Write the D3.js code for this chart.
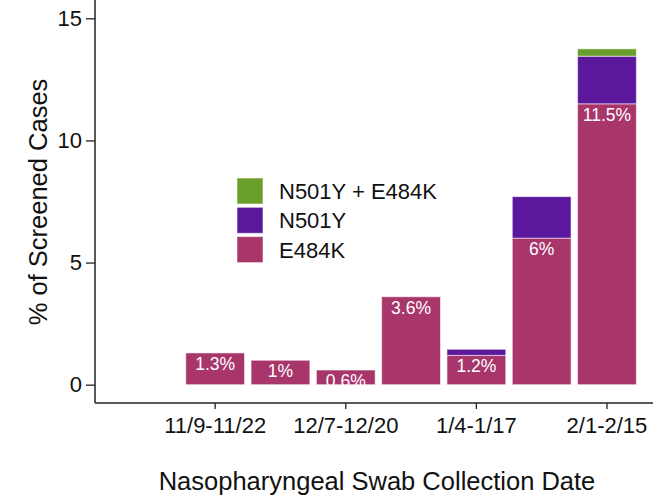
<!DOCTYPE html>
<html>
<head>
<meta charset="utf-8">
<script src="https://cdn.jsdelivr.net/npm/d3@7"></script>
<style>
  body { margin: 0; background: #fff; }
  text { font-family: Arial, "Liberation Sans", sans-serif; }
</style>
</head>
<body>
<div id="chart"></div>
<script>
// two-week collection windows
const periods = ['11/9-11/22', '11/23-12/6', '12/7-12/20', '12/21-1/3', '1/4-1/17', '1/18-1/31', '2/1-2/15'];
const tickLabels = ['11/9-11/22', '12/7-12/20', '1/4-1/17', '2/1-2/15'];
const e484k = [1.3, 1.0, 0.6, 3.6, 1.2, 6.0, 11.5];
const n501y = [0, 0, 0, 0, 0.25, 1.7, 1.95];
const both = [0, 0, 0, 0, 0, 0, 0.3];
const barLabels = ['1.3%', '1%', '0.6%', '3.6%', '1.2%', '6%', '11.5%'];
const yTicks = [0, 5, 10, 15];

const keys = ['E484K', 'N501Y', 'N501Y + E484K'];
const colors = { 'E484K': '#a8366b', 'N501Y': '#5b189c', 'N501Y + E484K': '#6a9f2b' };

const width = 653, height = 497;
const plotLeft = 95, plotRight = 653, plotTop = 0, plotBottom = 403;

const rows = periods.map((p, i) => ({
  period: p,
  'E484K': e484k[i],
  'N501Y': n501y[i],
  'N501Y + E484K': both[i]
}));

const svg = d3.select('#chart').append('svg')
    .attr('width', width)
    .attr('height', height);

const x = d3.scaleBand()
    .domain(periods)
    .range([plotLeft, plotRight])
    .paddingInner(0.1)
    .paddingOuter(0.8225)
    .align(0.845);

const y = d3.scaleLinear()
    .domain([-0.75, 15.75])
    .range([plotBottom, plotTop]);

const series = d3.stack().keys(keys)(rows);

svg.append('g')
  .selectAll('g')
    .data(series)
  .enter().append('g')
    .attr('fill', d => colors[d.key])
  .selectAll('rect')
    .data(d => d.filter(s => s[1] - s[0] > 0))
  .enter().append('rect')
    .attr('x', d => x(d.data.period))
    .attr('width', x.bandwidth())
    .attr('y', d => y(d[1]))
    .attr('height', d => y(d[0]) - y(d[1]))
    .attr('stroke', '#fff')
    .attr('stroke-opacity', 0.55)
    .attr('stroke-width', 1);

// percentage labels just under the E484K top
svg.append('g')
  .selectAll('text')
    .data(periods)
  .enter().append('text')
    .attr('x', d => x(d) + x.bandwidth() / 2)
    .attr('y', (d, i) => y(e484k[i]) + 17)
    .attr('text-anchor', 'middle')
    .attr('fill', '#fff')
    .style('font-size', '17.5px')
    .text((d, i) => barLabels[i]);

// axes
const yAxis = svg.append('g')
    .attr('transform', `translate(${plotLeft},0)`)
    .call(d3.axisLeft(y).tickValues(yTicks).tickSize(9).tickPadding(4));
yAxis.select('.domain').attr('d', `M0,${plotTop}V${plotBottom}`);

const xAxis = svg.append('g')
    .attr('transform', `translate(0,${plotBottom})`)
    .call(d3.axisBottom(x).tickValues(tickLabels).tickSize(6).tickPadding(8));
xAxis.select('.domain').attr('d', `M${plotLeft},0H${plotRight}`);

[yAxis, xAxis].forEach(a => {
  a.select('.domain').attr('stroke', '#222').attr('stroke-width', 1.5);
  a.selectAll('.tick line').attr('stroke', '#222').attr('stroke-width', 1.3);
  a.selectAll('.tick text').attr('fill', '#111').style('font-family', 'Arial, "Liberation Sans", sans-serif');
});
yAxis.selectAll('.tick text').style('font-size', '22px');
xAxis.selectAll('.tick text').style('font-size', '22px');

// titles
svg.append('text')
    .attr('x', 377)
    .attr('y', 490)
    .attr('text-anchor', 'middle')
    .attr('fill', '#111')
    .style('font-size', '25.5px')
    .text('Nasopharyngeal Swab Collection Date');

svg.append('text')
    .attr('transform', 'translate(47,202) rotate(-90)')
    .attr('text-anchor', 'middle')
    .attr('fill', '#111')
    .style('font-size', '25.5px')
    .text('% of Screened Cases');

// legend
const legend = svg.append('g')
    .attr('transform', 'translate(237,178)');

const legendKeys = keys.slice().reverse();
const item = legend.selectAll('g')
    .data(legendKeys)
  .enter().append('g')
    .attr('transform', (d, i) => `translate(0,${i * 29.3})`);

item.append('rect')
    .attr('width', 26)
    .attr('height', 26)
    .attr('fill', d => colors[d])
    .attr('stroke', '#fff')
    .attr('stroke-opacity', 0.55);

item.append('text')
    .attr('x', 42)
    .attr('y', 21)
    .attr('fill', '#111')
    .style('font-size', '22px')
    .text(d => d);
</script>
</body>
</html>
